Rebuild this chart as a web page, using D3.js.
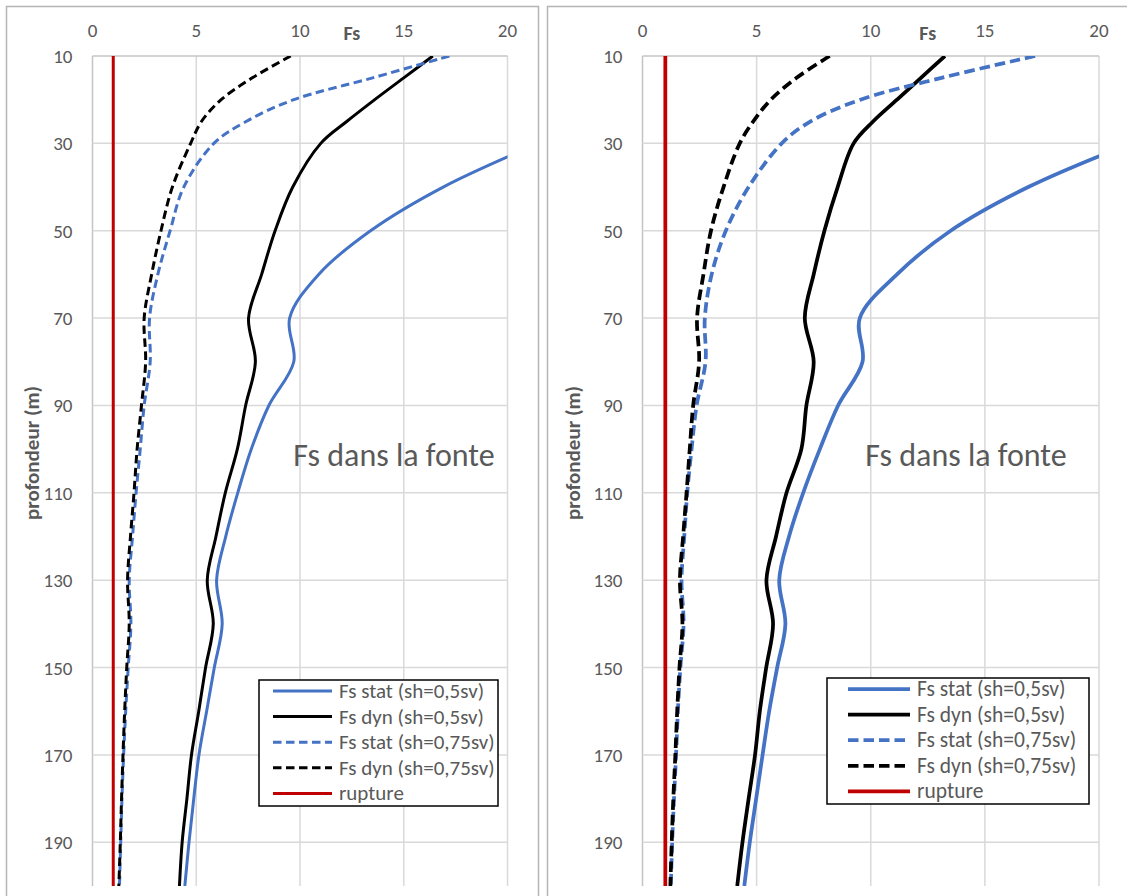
<!DOCTYPE html>
<html>
<head>
<meta charset="utf-8">
<script src="https://d3js.org/d3.v7.min.js"></script>
<style>
body { margin: 0; background: #fff; }
svg text { font-family: Carlito, Lato, sans-serif; fill: #595959; }
</style>
</head>
<body>
<div id="chart"></div>
<script>
// depth (m) of each computed point
var depth = [10, 15, 20, 25, 30, 40, 50, 60, 70, 80, 90, 100, 110, 120, 130, 140, 150, 160, 170, 180, 190, 200];
var fsTicks = [0, 5, 10, 15, 20];
var depthTicks = [10, 30, 50, 70, 90, 110, 130, 150, 170, 190];

// left chart
var leftStat05 = [null, null, null, null, 21.5, 16.9, 13.4, 10.9, 9.5, 9.7, 8.5, 7.65, 7.0, 6.42, 5.98, 6.25, 5.87, 5.5, 5.13, 4.88, 4.65, 4.45];
var leftDyn05 = [16.4, 15.0, 13.6, 12.25, 11.0, 9.65, 8.8, 8.15, 7.52, 7.85, 7.38, 6.98, 6.4, 5.95, 5.53, 5.82, 5.45, 5.12, 4.77, 4.55, 4.32, 4.19];
var leftStat075 = [17.2, 13.5, 9.7, 7.4, 5.85, 4.4, 3.74, 3.15, 2.75, 2.78, 2.49, 2.3, 2.1, 1.93, 1.77, 1.85, 1.72, 1.6, 1.5, 1.42, 1.36, 1.3];
var leftDyn075 = [9.55, 7.7, 6.2, 5.25, 4.73, 3.85, 3.3, 2.85, 2.49, 2.56, 2.36, 2.15, 2.0, 1.83, 1.69, 1.77, 1.65, 1.55, 1.47, 1.4, 1.34, 1.27];

// right chart
var rightStat05 = [null, null, null, null, 21.4, 16.9, 13.5, 11.15, 9.52, 9.64, 8.57, 7.77, 7.04, 6.42, 5.99, 6.26, 5.9, 5.55, 5.26, 4.98, 4.7, 4.46];
var rightDyn05 = [13.25, 12.2, 11.15, 10.1, 9.25, 8.55, 7.97, 7.5, 7.11, 7.5, 7.18, 6.96, 6.31, 5.85, 5.43, 5.72, 5.42, 5.14, 4.93, 4.65, 4.38, 4.15];
var rightStat075 = [17.2, 13.1, 9.55, 7.35, 6.1, 4.65, 3.65, 3.03, 2.73, 2.76, 2.37, 2.15, 1.96, 1.83, 1.71, 1.8, 1.66, 1.55, 1.47, 1.38, 1.3, 1.24];
var rightDyn075 = [8.2, 6.75, 5.62, 4.85, 4.26, 3.55, 3.0, 2.67, 2.39, 2.48, 2.22, 2.07, 1.93, 1.78, 1.64, 1.75, 1.62, 1.52, 1.44, 1.35, 1.28, 1.22];

// rupture line Fs = 1
var ruptureDepth = [10, 200];
var ruptureFs = [1, 1];

var legendLabels = ['Fs stat (sh=0,5sv)', 'Fs dyn (sh=0,5sv)', 'Fs stat (sh=0,75sv)', 'Fs dyn (sh=0,75sv)', 'rupture'];

var svg = d3.select('#chart')
	.append('svg')
		.attr('width', 1127)
		.attr('height', 896);

var drawPanel = function(p){
	var g = svg.append('g');

	// outer chart frame
	g.append('rect')
		.attr('x', p.frameX).attr('y', 6.5)
		.attr('width', p.frameW).attr('height', 920)
		.attr('fill', '#fff')
		.attr('stroke', '#b4b4b4')
		.attr('stroke-width', 1.5);

	var x = d3.scaleLinear().domain([0, 20]).range([p.left, p.right]);
	var y = d3.scaleLinear().domain([10, 200]).range([56, 886]);

	// gridlines
	g.selectAll('.vgrid').data(fsTicks).enter().append('line')
		.attr('x1', d => x(d)).attr('x2', d => x(d))
		.attr('y1', y(10)).attr('y2', y(200))
		.attr('stroke', d => d == 0 ? '#c4c4c4' : '#d9d9d9')
		.attr('stroke-width', 1.5);
	g.selectAll('.hgrid').data(depthTicks).enter().append('line')
		.attr('x1', x(0)).attr('x2', x(20))
		.attr('y1', d => y(d)).attr('y2', d => y(d))
		.attr('stroke', d => d == 10 ? '#c4c4c4' : '#d9d9d9')
		.attr('stroke-width', 1.5);

	// tick labels
	g.selectAll('.xlab').data(fsTicks).enter().append('text')
		.attr('x', d => x(d)).attr('y', 37)
		.attr('text-anchor', 'middle')
		.style('font-size', p.tick + 'px')
		.text(d => d);
	g.selectAll('.ylab').data(depthTicks).enter().append('text')
		.attr('x', p.left - 20).attr('y', d => y(d) + 7)
		.attr('text-anchor', 'end')
		.style('font-size', p.tick + 'px')
		.text(d => d);

	// axis titles
	g.append('text')
		.attr('x', p.left + 0.625 * (p.right - p.left)).attr('y', 40)
		.attr('text-anchor', 'middle')
		.style('font-size', '20px').style('font-weight', 'bold')
		.text('Fs');
	g.append('text')
		.attr('transform', 'translate(' + (p.frameX + 32) + ',453) rotate(-90)')
		.attr('text-anchor', 'middle')
		.style('font-size', '21px').style('font-weight', 'bold')
		.text('profondeur (m)');

	// clip curves to the plot area
	g.append('clipPath').attr('id', 'clip' + p.id)
		.append('rect')
			.attr('x', x(0)).attr('y', y(10))
			.attr('width', x(20) - x(0)).attr('height', y(200) - y(10));

	var line = d3.line()
		.defined(d => d[1] != null)
		.x(d => x(d[1]))
		.y(d => y(d[0]))
		.curve(d3.curveCatmullRom.alpha(0.5));

	var series = [
		{ v: p.stat05, c: '#4472C4', dash: null },
		{ v: p.dyn05, c: '#000000', dash: null },
		{ v: p.stat075, c: '#4472C4', dash: p.dash },
		{ v: p.dyn075, c: '#000000', dash: p.dash }
	];
	var curves = g.append('g').attr('clip-path', 'url(#clip' + p.id + ')');
	series.forEach(function(s){
		curves.append('path')
			.datum(d3.zip(depth, s.v))
			.attr('d', line)
			.attr('fill', 'none')
			.attr('stroke', s.c)
			.attr('stroke-width', p.sw)
			.attr('stroke-dasharray', s.dash);
	});
	curves.append('path')
		.datum(d3.zip(ruptureDepth, ruptureFs))
		.attr('d', d3.line().x(d => x(d[1])).y(d => y(d[0])))
		.attr('fill', 'none')
		.attr('stroke', '#C00000')
		.attr('stroke-width', p.sw);

	// annotation
	g.append('text')
		.attr('x', p.noteX).attr('y', 466)
		.attr('text-anchor', 'middle')
		.style('font-size', p.noteFont + 'px')
		.text('Fs dans la fonte');

	// legend
	var lg = g.append('g').attr('transform', 'translate(' + p.lgX + ',' + p.lgY + ')');
	lg.append('rect')
		.attr('width', p.lgW).attr('height', 126)
		.attr('fill', '#fff').attr('stroke', '#000').attr('stroke-width', 1.5);
	var keys = [
		{ c: '#4472C4', dash: null },
		{ c: '#000000', dash: null },
		{ c: '#4472C4', dash: p.dash },
		{ c: '#000000', dash: p.dash },
		{ c: '#C00000', dash: null }
	];
	keys.forEach(function(k, i){
		var ky = 11 + i * 25.6;
		lg.append('line')
			.attr('x1', p.lgLine[0]).attr('x2', p.lgLine[1])
			.attr('y1', ky).attr('y2', ky)
			.attr('stroke', k.c).attr('stroke-width', p.sw)
			.attr('stroke-dasharray', k.dash);
		lg.append('text')
			.attr('x', p.lgLine[1] + 7).attr('y', ky + 7)
			.style('font-size', p.lgFont + 'px')
			.text(legendLabels[i]);
	});
};

drawPanel({
	id: 'L', frameX: 6.5, frameW: 532, left: 92.5, right: 507.5,
	stat05: leftStat05, dyn05: leftDyn05, stat075: leftStat075, dyn075: leftDyn075,
	sw: 3, dash: '8.5,4.5', tick: 19, noteX: 394, noteFont: 32,
	lgX: 259, lgY: 680, lgW: 239, lgLine: [14, 73], lgFont: 21
});
drawPanel({
	id: 'R', frameX: 547.5, frameW: 600, left: 642.5, right: 1099,
	stat05: rightStat05, dyn05: rightDyn05, stat075: rightStat075, dyn075: rightDyn075,
	sw: 3.75, dash: '10.5,5', tick: 19, noteX: 966, noteFont: 32,
	lgX: 827, lgY: 678, lgW: 262, lgLine: [21, 83], lgFont: 21.5
});
</script>
</body>
</html>
